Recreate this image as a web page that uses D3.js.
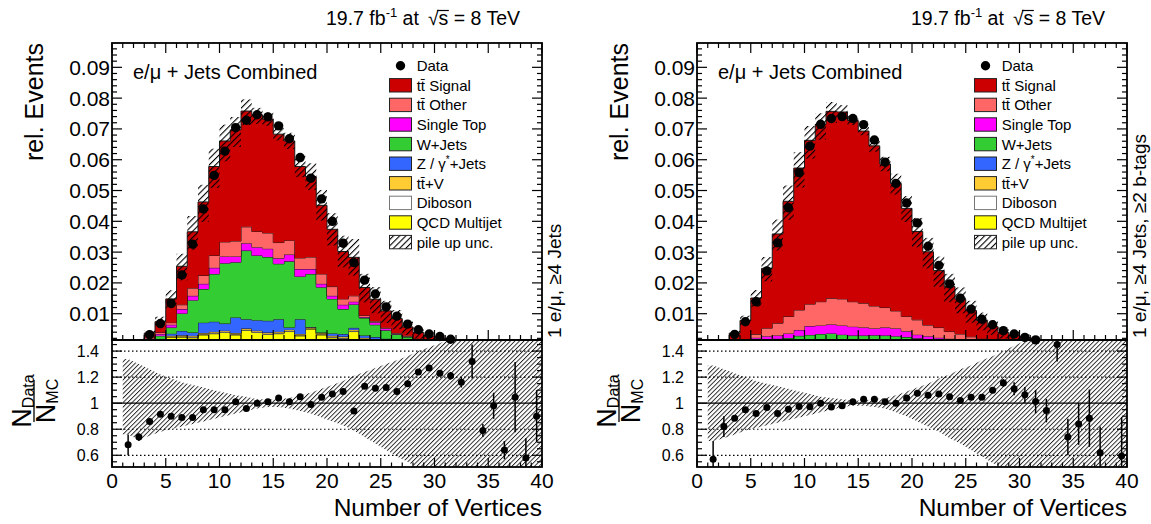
<!DOCTYPE html>
<html>
<head>
<meta charset="utf-8">
<script src="https://cdn.jsdelivr.net/npm/d3@7"></script>
<style>
  body { margin: 0; background: #fff; }
  svg { font-family: "Liberation Sans", Arial, Helvetica, sans-serif; display: block; }
</style>
</head>
<body>
<svg id="chart" width="1151" height="524"></svg>
<script>
//Number of vertices, one bin per integer (lower edges)
const vertices = d3.range(40);

//Stack contributions, units of 1e-3 (rel. events), left: >=4 jets
const sigL   = [0,0.15,0.65,1.5,3.5,7.7,12.5,18.3,23.9,28.9,32.8,36.1,37.6,37.9,37.0,35.2,32.3,29.7,26.1,22.3,18.6,15.4,12.5,9.1,7.1,5.5,4.7,2.9,2.0,1.4,1.2,0.8,0.46,0.25,0.21,0.11,0.09,0.04,0.04,0.015];
const otherL = [0,0.02,0.1,0.3,0.5,0.7,1.4,2.5,2.7,4.0,4.7,5.0,5.3,5.1,5.1,5.1,4.6,3.6,3.9,3.2,3.0,1.9,1.9,0.5,0.4,0.2,0.2,0.2,0.2,0.1,0.1,0.05,0.05,0.02,0.02,0.01,0.01,0.01,0,0.005];
const stL    = [0,0.02,0.1,0.2,0.6,0.9,1.4,1.4,1.7,2.0,2.2,1.9,2.4,2.7,2.7,1.8,2.2,2.4,1.6,1.1,1.0,1.4,0.9,0.3,0.8,0.6,0.2,0.2,0.1,0.1,0.1,0.05,0.05,0.03,0.03,0.01,0.01,0,0.01,0];
const wjL    = [0,0.05,0.25,0.8,1.0,2.0,5.7,10.5,10.9,15.5,19.6,17.9,22.3,21.0,20.7,18.0,21.5,13.9,17.2,14.7,11.2,8.1,7.6,5.7,4.0,2.7,1.7,1.2,0.8,0.5,0.35,0.25,0.15,0.08,0.06,0.04,0.03,0.02,0.01,0.005];
const zjL    = [0,0.03,0.12,0.27,0.55,0.7,1.4,1.1,3.4,3.3,2.3,5.1,3.0,3.4,3.8,4.1,0.7,4.8,0.1,0.2,0.8,0.8,0.6,0.7,0.6,0.4,0.3,0.25,0.2,0.19,0.12,0.11,0.07,0.03,0.03,0.02,0.01,0.01,0.01,0.005];
const ttvL   = [0,0,0.02,0.08,0.15,0.25,0.4,0.4,0.4,0.4,0.4,0.4,0.4,0.4,0.4,0.4,0.4,0.4,0.4,0.4,0.4,0.4,0.4,0.3,0.25,0.2,0.12,0.1,0.06,0.04,0.02,0.01,0.01,0,0,0,0,0,0,0];
const dibL   = [0,0,0.01,0.05,0.1,0.15,0.2,0.2,0.2,0.2,0.2,0.2,0.2,0.2,0.2,0.2,0.2,0.2,0.2,0.2,0.2,0.2,0.2,0.2,0.15,0.1,0.08,0.05,0.04,0.02,0.01,0.01,0.01,0,0,0,0,0,0,0];
const qcdL   = [0,0.02,0.1,0.5,1.0,2.4,2.4,2.2,3.1,3.5,3.9,3.1,4.6,3.9,3.3,3.5,4.2,2.8,5.0,3.1,2.2,2.0,4.2,1.7,1.4,1.2,1.1,0.8,0.5,0.35,0.2,0.12,0.06,0.03,0.02,0.01,0.01,0,0,0];
const dataL  = [0,0.2,1.0,3.2,6.8,13.3,22.6,32.6,44.0,54.9,62.8,70.4,72.8,74.6,73.9,71.0,66.8,60.7,54.0,47.3,40.0,32.9,26.6,20.9,16.4,12.2,9.2,6.6,4.8,3.4,2.6,1.7,1.0,0.6,0.3,0.2,0.1,0.08,0.04,0.03];
const ratioL = [null,0.68,0.74,0.86,0.915,0.90,0.89,0.89,0.95,0.95,0.95,1.01,0.96,1.0,1.01,1.04,1.01,1.05,0.99,1.046,1.07,1.09,0.94,1.13,1.115,1.12,1.09,1.15,1.24,1.27,1.23,1.21,1.16,1.32,0.79,0.98,0.64,1.046,0.58,0.90];
const ratioErrL = [0,0.08,0.03,0.01,0.01,0.01,0.01,0.01,0.01,0.01,0.01,0.01,0.01,0.01,0.01,0.01,0.01,0.01,0.01,0.01,0.01,0.01,0.01,0.01,0.01,0.01,0.01,0.01,0.01,0.01,0.01,0.03,0.04,0.13,0.05,0.1,0.07,0.27,0.15,0.2];
const bandUpL = [null,1.34,1.30,1.26,1.22,1.19,1.16,1.14,1.12,1.10,1.08,1.06,1.05,1.03,1.03,1.03,1.04,1.06,1.08,1.11,1.14,1.17,1.21,1.24,1.27,1.30,1.33,1.36,1.40,1.43,1.46,1.50,1.55,1.6,1.65,1.7,1.75,1.8,1.85,1.9];
const bandDnL = [null,0.76,0.72,0.75,0.78,0.80,0.82,0.84,0.86,0.88,0.90,0.92,0.94,0.96,0.97,0.97,0.96,0.94,0.92,0.89,0.86,0.83,0.79,0.74,0.69,0.64,0.59,0.55,0.50,0.45,0.40,0.35,0.3,0.25,0.2,0.15,0.1,0.05,0,0];

//Right: >=4 jets, >=2 b-tags
const sigR   = [0,0.15,0.73,3.2,6.2,11.8,19.4,29.0,37.4,46.1,53.2,57.6,60.7,60.7,58.8,55.9,52.0,46.6,41.4,35.1,28.7,23.8,18.5,14.6,11.3,8.5,5.9,4.5,3.0,2.4,1.7,1.15,0.65,0.27,0.26,0.14,0.08,0.06,0.025,0.028];
const otherR = [0,0.01,0.04,0.15,0.8,1.1,2.6,4.0,5.5,6.5,7.1,7.7,8.5,8.6,8.1,7.9,7.3,6.5,5.7,4.8,4.8,3.6,3.3,2.3,1.8,1.2,0.9,0.6,0.4,0.3,0.25,0.17,0.1,0.04,0.04,0.02,0.01,0.01,0.003,0.003];
const stR    = [0,0.01,0.04,0.15,0.4,0.8,1.0,1.0,1.5,1.9,2.9,2.8,2.9,3.0,2.9,2.6,2.2,2.6,2.5,1.9,1.2,0.9,0.7,0.6,0.6,0.5,0.4,0.2,0.2,0.15,0.1,0.08,0.05,0.02,0.02,0.01,0.01,0.005,0.001,0.002];
const wjR    = [0,0.005,0.02,0.1,0.2,0.8,0.9,1.1,1.1,1.8,2.1,2.4,2.6,2.2,1.9,1.9,2.0,1.9,1.7,1.4,1.0,1.0,0.7,0.5,0.2,0.4,0.2,0.1,0.1,0.05,0.05,0.05,0.03,0.01,0.01,0.01,0.01,0.005,0.001,0.001];
const zjR    = [0,0.002,0.01,0.03,0.08,0.2,0.25,0.25,0.3,0.3,0.3,0.3,0.3,0.3,0.3,0.3,0.3,0.3,0.3,0.3,0.3,0.25,0.25,0.25,0.25,0.12,0.12,0.12,0.06,0.06,0.03,0.015,0.005,0.003,0.003,0.003,0.003,0.003,0.003,0.003];
const ttvR   = [0,0.002,0.01,0.04,0.08,0.25,0.35,0.35,0.45,0.45,0.45,0.45,0.45,0.45,0.45,0.45,0.45,0.45,0.45,0.45,0.45,0.35,0.35,0.35,0.35,0.2,0.2,0.2,0.1,0.1,0.05,0.025,0.01,0.005,0.005,0.005,0.005,0.005,0.005,0.005];
const dibR   = [0,0,0,0.01,0.02,0.05,0.05,0.05,0.05,0.05,0.05,0.05,0.05,0.05,0.05,0.05,0.05,0.05,0.05,0.05,0.05,0.05,0.05,0.05,0.05,0.02,0.02,0.02,0.01,0.01,0.01,0.005,0.003,0.001,0.001,0.001,0.001,0.001,0.001,0.001];
const qcdR   = [0,0.001,0,0.02,0.02,0.1,0.15,0.15,0.2,0.2,0.2,0.2,0.2,0.2,0.2,0.2,0.2,0.2,0.2,0.2,0.2,0.15,0.15,0.15,0.15,0.06,0.06,0.06,0.03,0.03,0.01,0.005,0.002,0.001,0.001,0.001,0.001,0.001,0.001,0.001];
const dataR  = [0,0.1,0.7,3.3,7.4,13.9,23.9,33.0,44.4,55.8,64.4,71.5,73.4,74.0,73.4,71.4,66.4,59.2,52.3,46.0,39.5,31.9,25.7,19.7,15.0,11.5,8.2,6.4,4.5,3.4,2.3,1.5,0.8,0.5,0.25,0.15,0.1,0.05,0,0.02];
const ratioR = [null,0.57,0.82,0.885,0.95,0.92,0.967,0.92,0.954,0.974,0.972,1.0,0.97,0.98,1.01,1.03,1.03,1.01,1.0,1.04,1.077,1.06,1.07,1.05,1.02,1.045,1.045,1.10,1.155,1.11,1.064,1.012,0.943,1.45,0.74,0.84,0.885,0.62,null,0.595];
const ratioErrR = [0,0.14,0.08,0.01,0.01,0.01,0.01,0.01,0.01,0.01,0.01,0.01,0.01,0.01,0.01,0.01,0.01,0.01,0.01,0.01,0.01,0.01,0.01,0.01,0.01,0.01,0.01,0.01,0.03,0.05,0.06,0.09,0.09,0.13,0.14,0.16,0.22,0.2,0,0.3];
const bandUpR = [null,1.29,1.26,1.23,1.20,1.17,1.15,1.13,1.11,1.09,1.07,1.05,1.04,1.03,1.02,1.02,1.03,1.04,1.06,1.09,1.12,1.15,1.19,1.22,1.26,1.29,1.33,1.36,1.40,1.44,1.48,1.52,1.56,1.6,1.65,1.7,1.75,1.8,1.85,1.9];
const bandDnR = [null,0.71,0.73,0.76,0.79,0.81,0.83,0.85,0.87,0.89,0.91,0.93,0.95,0.97,0.98,0.98,0.97,0.96,0.93,0.90,0.86,0.82,0.78,0.73,0.69,0.64,0.59,0.54,0.50,0.45,0.40,0.35,0.3,0.25,0.2,0.15,0.1,0.05,0,0];

//Stack order, bottom first
const layers = [
    {key: "qcd",   color: "#ffff00"},
    {key: "dib",   color: "#ffffff"},
    {key: "ttv",   color: "#ffcc33"},
    {key: "zj",    color: "#3366ff"},
    {key: "wj",    color: "#33cc33"},
    {key: "st",    color: "#ff00ff"},
    {key: "other", color: "#ff6666"},
    {key: "sig",   color: "#cc0000"}
];

const yTickLabels = ["0.01","0.02","0.03","0.04","0.05","0.06","0.07","0.08","0.09"];
const ratioTickLabels = ["0.6","0.8","1","1.2","1.4"];
const xTickLabels = ["0","5","10","15","20","25","30","35","40"];

const panels = [
    {x0: 112, id: "L", label: "1 e/\u03bc, \u22654 Jets",
     mc: {sig: sigL, other: otherL, st: stL, wj: wjL, zj: zjL, ttv: ttvL, dib: dibL, qcd: qcdL},
     data: dataL, ratio: ratioL, ratioErr: ratioErrL, up: bandUpL, dn: bandDnL},
    {x0: 697, id: "R", label: "1 e/\u03bc, \u22654 Jets, \u22652 b-tags",
     mc: {sig: sigR, other: otherR, st: stR, wj: wjR, zj: zjR, ttv: ttvR, dib: dibR, qcd: qcdR},
     data: dataR, ratio: ratioR, ratioErr: ratioErrR, up: bandUpR, dn: bandDnR}
];

const W = 430, TOP = 43, MID = 340, BOT = 467;
const svg = d3.select("#chart");
const defs = svg.append("defs");

//Hatch patterns ("/" lines)
function addHatch(id, gap, width) {
    defs.append("pattern")
        .attr("id", id)
        .attr("patternUnits", "userSpaceOnUse")
        .attr("width", gap).attr("height", gap)
        .attr("patternTransform", "rotate(45)")
        .append("line")
        .attr("x1", 0.5).attr("y1", 0).attr("x2", 0.5).attr("y2", gap)
        .attr("stroke", "#000").attr("stroke-width", width);
}
addHatch("hatchMain", 4.4, 1.2);
addHatch("hatchRatio", 3.2, 0.8);

function drawPanel(p) {
    const x0 = p.x0;
    const x = d3.scaleLinear().domain([0, 40]).range([x0, x0 + W]);
    const y = d3.scaleLinear().domain([1.46, 97.9]).range([MID, TOP]);
    const yr = d3.scaleLinear().domain([0.51, 1.485]).range([BOT, MID]);
    const g = svg.append("g");

    //Clip paths for both pads
    defs.append("clipPath").attr("id", "clipMain" + p.id)
        .append("rect").attr("x", x0).attr("y", TOP).attr("width", W).attr("height", MID - TOP);
    defs.append("clipPath").attr("id", "clipRatio" + p.id)
        .append("rect").attr("x", x0).attr("y", MID).attr("width", W).attr("height", BOT - MID);

    //Stack
    const rows = vertices.map(i => {
        const r = {};
        layers.forEach(l => r[l.key] = p.mc[l.key][i]);
        return r;
    });
    const stacked = d3.stack().keys(layers.map(l => l.key))(rows);
    const total = rows.map(r => d3.sum(layers, l => r[l.key]));
    const edges = d3.range(41);

    const main = g.append("g").attr("clip-path", "url(#clipMain" + p.id + ")");
    stacked.forEach((s, k) => {
        const pts = edges.map(e => s[Math.min(e, 39)]);
        main.append("path")
            .datum(pts)
            .attr("fill", layers[k].color)
            .attr("d", d3.area().curve(d3.curveStepAfter)
                .x((d, i) => x(i)).y0(d => y(d[0])).y1(d => y(d[1])));
        main.append("path")
            .datum(pts)
            .attr("fill", "none")
            .attr("stroke", "#1a1a1a")
            .attr("stroke-width", 1)
            .attr("d", d3.line().curve(d3.curveStepAfter)
                .x((d, i) => x(i)).y(d => y(d[1])));
    });

    //Pile up band on the stack
    main.selectAll("rect.band")
        .data(vertices.filter(i => total[i] > 0 && p.up[i] != null))
        .enter().append("rect")
        .attr("class", "band")
        .attr("x", i => x(i))
        .attr("width", x(1) - x(0))
        .attr("y", i => y(total[i] * p.up[i]))
        .attr("height", i => Math.max(0, y(total[i] * p.dn[i]) - y(total[i] * p.up[i])))
        .attr("fill", "url(#hatchMain)");

    //Data points
    g.selectAll("circle.data")
        .data(vertices.filter(i => p.data[i] >= 1.46))
        .enter().append("circle")
        .attr("cx", i => x(i + 0.5))
        .attr("cy", i => y(p.data[i]))
        .attr("r", 4.7)
        .attr("fill", "#000");

    //Ratio pad
    const ratio = g.append("g").attr("clip-path", "url(#clipRatio" + p.id + ")");
    const bandPts = vertices.filter(i => p.up[i] != null).map(i => ({c: i + 0.5, up: p.up[i], dn: p.dn[i]}));
    bandPts.unshift({c: 1, up: p.up[1], dn: p.dn[1]});
    bandPts.push({c: 40, up: p.up[39], dn: p.dn[39]});
    ratio.append("path")
        .datum(bandPts)
        .attr("fill", "url(#hatchRatio)")
        .attr("d", d3.area().x(d => x(d.c)).y0(d => yr(d.dn)).y1(d => yr(d.up)));

    [0.6, 0.8, 1.2, 1.4].forEach(v => {
        ratio.append("line")
            .attr("x1", x0).attr("x2", x0 + W)
            .attr("y1", yr(v)).attr("y2", yr(v))
            .attr("stroke", "#000").attr("stroke-width", 1.2)
            .attr("stroke-dasharray", "1.5,2.5");
    });
    ratio.append("line")
        .attr("x1", x0).attr("x2", x0 + W)
        .attr("y1", yr(1)).attr("y2", yr(1))
        .attr("stroke", "#000").attr("stroke-width", 1.2);

    const rIdx = vertices.filter(i => p.ratio[i] != null);
    ratio.selectAll("line.err")
        .data(rIdx)
        .enter().append("line")
        .attr("x1", i => x(i + 0.5)).attr("x2", i => x(i + 0.5))
        .attr("y1", i => yr(p.ratio[i] - p.ratioErr[i]))
        .attr("y2", i => yr(p.ratio[i] + p.ratioErr[i]))
        .attr("stroke", "#000").attr("stroke-width", 1.5);
    g.selectAll("circle.ratio")
        .data(rIdx.filter(i => p.ratio[i] > 0.51 && p.ratio[i] < 1.485))
        .enter().append("circle")
        .attr("cx", i => x(i + 0.5))
        .attr("cy", i => yr(p.ratio[i]))
        .attr("r", 3.5)
        .attr("fill", "#000");

    //Frames
    g.append("rect").attr("x", x0).attr("y", TOP).attr("width", W).attr("height", MID - TOP)
        .attr("fill", "none").attr("stroke", "#000").attr("stroke-width", 1.8);
    g.append("rect").attr("x", x0).attr("y", MID).attr("width", W).attr("height", BOT - MID)
        .attr("fill", "none").attr("stroke", "#000").attr("stroke-width", 1.8);

    //Ticks
    const ticks = g.append("g").attr("stroke", "#000").attr("stroke-width", 1.2);
    edges.forEach(v => {
        const len = v % 5 === 0 ? 10 : 5;
        ticks.append("line").attr("x1", x(v)).attr("x2", x(v)).attr("y1", MID).attr("y2", MID - len);
        ticks.append("line").attr("x1", x(v)).attr("x2", x(v)).attr("y1", TOP).attr("y2", TOP + len);
        ticks.append("line").attr("x1", x(v)).attr("x2", x(v)).attr("y1", BOT).attr("y2", BOT - len * 0.9);
    });
    d3.range(2, 98, 2).forEach(v => {
        const len = v % 10 === 0 ? 10 : 5;
        ticks.append("line").attr("x1", x0).attr("x2", x0 + len).attr("y1", y(v)).attr("y2", y(v));
        ticks.append("line").attr("x1", x0 + W).attr("x2", x0 + W - len).attr("y1", y(v)).attr("y2", y(v));
    });
    d3.range(11, 30).forEach(k => {
        const v = k * 0.05;
        const len = k % 4 === 0 ? 10 : 5;
        ticks.append("line").attr("x1", x0).attr("x2", x0 + len).attr("y1", yr(v)).attr("y2", yr(v));
        ticks.append("line").attr("x1", x0 + W).attr("x2", x0 + W - len).attr("y1", yr(v)).attr("y2", yr(v));
    });

    //Tick labels
    yTickLabels.forEach(t => {
        g.append("text").attr("x", x0 - 2).attr("y", y(+t * 1000) + 7.5)
            .attr("text-anchor", "end").attr("font-size", 21).text(t);
    });
    ratioTickLabels.forEach(t => {
        g.append("text").attr("x", x0 - 13).attr("y", yr(+t) + 5.7)
            .attr("text-anchor", "end").attr("font-size", 16).text(t);
    });
    xTickLabels.forEach(t => {
        g.append("text").attr("x", x(+t)).attr("y", 487.5)
            .attr("text-anchor", "middle").attr("font-size", 21).text(t);
    });

    //Axis titles
    g.append("text").attr("x", x0 + W).attr("y", 516)
        .attr("text-anchor", "end").attr("font-size", 24.5).text("Number of Vertices");
    g.append("text").attr("transform", `translate(${x0 - 69},${TOP}) rotate(-90)`)
        .attr("text-anchor", "end").attr("font-size", 25).text("rel. Events");
    g.append("text").attr("transform", `translate(${x0 + W + 19},338) rotate(-90)`)
        .attr("font-size", 19).text(p.label);

    //N_Data / N_MC
    const frac = g.append("g").attr("transform", `translate(${x0 - 78},401) rotate(-90)`);
    const num = frac.append("text").attr("y", -3).attr("text-anchor", "middle").attr("font-size", 27);
    num.append("tspan").text("N");
    num.append("tspan").attr("font-size", 16).attr("dy", 3).text("Data");
    const den = frac.append("text").attr("y", 21).attr("text-anchor", "middle").attr("font-size", 27);
    den.append("tspan").text("N");
    den.append("tspan").attr("font-size", 16).attr("dy", 3).text("MC");
    frac.append("line").attr("x1", -21).attr("x2", 21).attr("y1", 0).attr("y2", 0)
        .attr("stroke", "#000").attr("stroke-width", 1.3);

    //Channel text
    g.append("text").attr("x", x0 + 21).attr("y", 79).attr("font-size", 20).text("e/\u03bc + Jets Combined");

    //Lumi text
    const lumi = g.append("text").attr("x", x0 + 214).attr("y", 25).attr("font-size", 19.5);
    lumi.append("tspan").text("19.7 fb");
    lumi.append("tspan").attr("font-size", 13).attr("dy", -8).text("-1");
    lumi.append("tspan").attr("dy", 8).text(" at");
    lumi.append("tspan").attr("dx", 9).text("\u221a");
    lumi.append("tspan").text("s");
    lumi.append("tspan").text(" = 8 TeV");
    const node = lumi.node();
    const full = node.textContent;
    const rootIdx = full.indexOf("\u221a");
    const eRoot = node.getExtentOfChar(rootIdx);
    const eS = node.getExtentOfChar(rootIdx + 1);
    g.append("line")
        .attr("x1", eRoot.x + eRoot.width - 1.5).attr("x2", eS.x + eS.width + 0.5)
        .attr("y1", 25 - 14.5).attr("y2", 25 - 14.5)
        .attr("stroke", "#000").attr("stroke-width", 1.2);

    drawLegend(g, x0);
}

//Legend entries
const legendItems = [
    {label: ["Data"], type: "marker"},
    {label: ["tt\u0304 Signal"], color: "#cc0000"},
    {label: ["tt\u0304 Other"], color: "#ff6666"},
    {label: ["Single Top"], color: "#ff00ff"},
    {label: ["W+Jets"], color: "#33cc33"},
    {label: ["Z / \u03b3", "*", "+Jets"], color: "#3366ff"},
    {label: ["tt\u0304+V"], color: "#ffcc33"},
    {label: ["Diboson"], color: "#ffffff", stroke: "#777"},
    {label: ["QCD Multijet"], color: "#ffff00"},
    {label: ["pile up unc."], color: "url(#hatchMain)"}
];

function drawLegend(g, x0) {
    legendItems.forEach((item, k) => {
        const cy = 65.7 + 19.6 * k;
        if (item.type === "marker") {
            g.append("circle").attr("cx", x0 + 288.5).attr("cy", cy).attr("r", 4.7).attr("fill", "#000");
        } else {
            g.append("rect")
                .attr("x", x0 + 277.5).attr("y", cy - 6.7)
                .attr("width", 22).attr("height", 13.4)
                .attr("fill", item.color)
                .attr("stroke", item.stroke || "#222").attr("stroke-width", 1);
        }
        const t = g.append("text").attr("x", x0 + 304.7).attr("y", cy + 5.4).attr("font-size", 15);
        t.append("tspan").text(item.label[0]);
        if (item.label.length > 1) {
            t.append("tspan").attr("font-size", 10).attr("dy", -6).text(item.label[1]);
            t.append("tspan").attr("dy", 6).text(item.label[2]);
        }
    });
}

panels.forEach(drawPanel);
</script>
</body>
</html>
